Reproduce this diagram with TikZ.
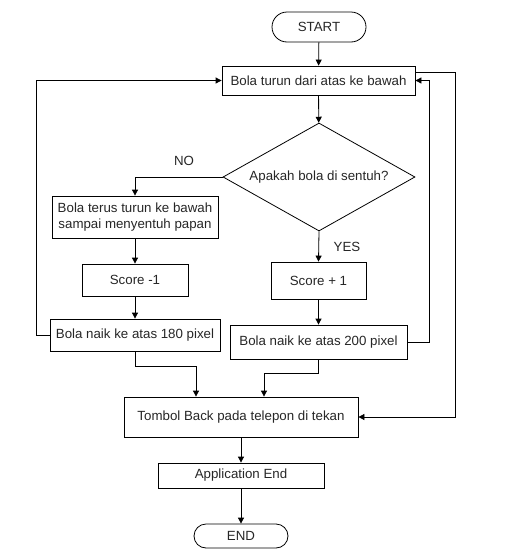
\documentclass[tikz,border=0pt]{standalone}
\usepackage{fontspec}
\setmainfont{Liberation Sans}
\usetikzlibrary{arrows.meta,shapes.geometric}

\begin{document}
\begin{tikzpicture}[x=1pt, y=-1pt, >={Triangle[length=6pt,width=6pt]}, line width=0.8pt,
		every node/.style={font=\fontsize{13.3}{16}\selectfont, text=black!85},
		box/.style={draw, rectangle, inner sep=0pt, align=center},
		term/.style={draw, rectangle, rounded corners=#1, inner sep=0pt},
		decide/.style={draw, diamond, aspect=1.78, inner sep=0pt}]
	
	\useasboundingbox (0,0) rectangle (512,560);
	
	% main column
	\node[term=15pt, minimum width=94pt, minimum height=30pt] (start) at (319,27) {START};
	\node[box, minimum width=193pt, minimum height=29pt] (fall) at (318.5,80.5) {Bola turun dari atas ke bawah};
	\node[decide, minimum width=192pt, minimum height=108pt] (touch) at (319,177) {Apakah bola di sentuh?};
	
	% NO branch
	\node[box, minimum width=166pt, minimum height=42pt] (miss) at (135,217) {Bola terus turun ke bawah\\sampai menyentuh papan};
	\node[box, minimum width=106pt, minimum height=32pt] (minus) at (135,280) {Score -1};
	\node[box, minimum width=170pt, minimum height=32pt] (upmiss) at (135,335) {Bola naik ke atas 180 pixel};
	
	% YES branch
	\node[box, minimum width=95pt, minimum height=37pt] (plus) at (318.5,280.5) {Score + 1};
	\node[box, minimum width=177pt, minimum height=34pt] (uphit) at (318.5,342) {Bola naik ke atas 200 pixel};
	
	% ending
	\node[box, minimum width=234pt, minimum height=40pt] (back) at (241,417) {Tombol Back pada telepon di tekan};
	\node[box, minimum width=166pt, minimum height=25pt] (append) at (241,475.5) {Application End};
	\node[term=12pt, minimum width=94pt, minimum height=24pt] (stop) at (241,536) {END};
	
	% labels
	\node at (184,161) {NO};
	\node at (347,247) {YES};
	
	% rails
	\coordinate (leftrail) at (36,80.5);
	\coordinate (rightrail) at (429,80.5);
	\coordinate (outrail) at (455,72);
	\coordinate (joinmiss) at (196,366);
	\coordinate (joinhit) at (264,373);
	
	% connectors
	\draw[->] (start) -- (fall);
	\draw[->] (fall) -- (touch);
	\draw[->] (touch.west) -| (miss.north);
	\draw[->] (touch.south) -- (plus.north);
	\draw[->] (miss) -- (minus);
	\draw[->] (minus) -- (upmiss);
	\draw[->] (plus) -- (uphit);
	\draw[->] (upmiss.west) -| (leftrail) -- (fall.west);
	\draw[->] (uphit.east) -| (rightrail) -- (fall.east);
	\draw[->] (fall.east |- outrail) -- (outrail) |- (back.east);
	\draw[->] (upmiss.south) |- (joinmiss) -- (joinmiss |- back.north);
	\draw[->] (uphit.south) |- (joinhit) -- (joinhit |- back.north);
	\draw[->] (back) -- (append);
	\draw[->] (append) -- (stop);
	
\end{tikzpicture}
\end{document}
